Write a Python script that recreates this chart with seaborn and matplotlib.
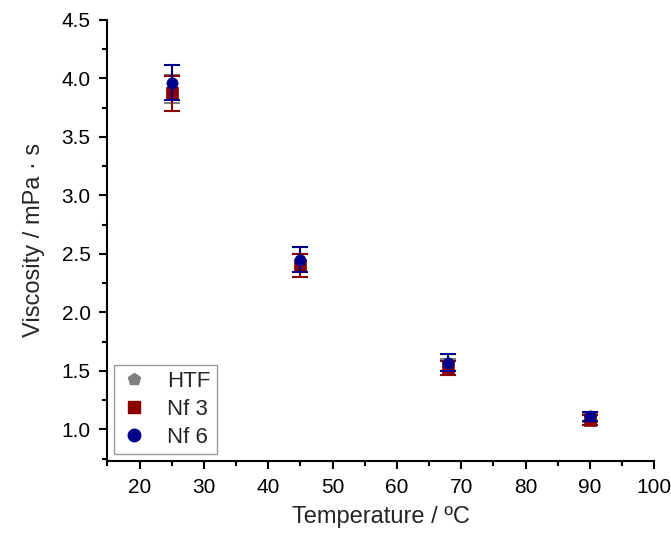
import matplotlib
matplotlib.use("Agg")
import matplotlib.pyplot as plt
import seaborn as sns
import pandas as pd
from matplotlib.ticker import MultipleLocator, FormatStrFormatter
from matplotlib.lines import Line2D

# Measured viscosity at each temperature
temperature = [25, 45, 68, 90]
htf_visc = [3.91, 2.42, 1.55, 1.10]
htf_err = [0.12, 0.08, 0.05, 0.04]
nf3_visc = [3.87, 2.40, 1.52, 1.08]
nf3_err = [0.15, 0.10, 0.06, 0.04]
nf6_visc = [3.96, 2.45, 1.57, 1.11]
nf6_err = [0.15, 0.11, 0.07, 0.04]

series_names = ["HTF", "Nf 3", "Nf 6"]
colors = {"HTF": "#808080", "Nf 3": "#8B0000", "Nf 6": "#00008B"}
markers = {"HTF": "p", "Nf 3": "s", "Nf 6": "o"}

df = pd.concat([
    pd.DataFrame({"T": temperature, "visc": htf_visc, "err": htf_err, "fluid": "HTF"}),
    pd.DataFrame({"T": temperature, "visc": nf3_visc, "err": nf3_err, "fluid": "Nf 3"}),
    pd.DataFrame({"T": temperature, "visc": nf6_visc, "err": nf6_err, "fluid": "Nf 6"}),
], ignore_index=True)

sns.set_style("ticks")
plt.rcParams["font.family"] = ["Liberation Sans", "DejaVu Sans"]

fig = plt.figure(figsize=(6.71, 5.34), dpi=100)
ax = fig.add_axes([0.16, 0.137, 0.815, 0.826])

for i, name in enumerate(series_names):
    sub = df[df["fluid"] == name]
    ax.errorbar(sub["T"], sub["visc"], yerr=sub["err"], fmt="none",
                ecolor=colors[name], elinewidth=1.5, capsize=6, capthick=1.5,
                zorder=2 + 2 * i)
    sns.scatterplot(data=sub, x="T", y="visc", color=colors[name],
                    marker=markers[name], s=65, edgecolor=colors[name],
                    linewidth=0.5, ax=ax, zorder=3 + 2 * i, legend=False)

ax.set_xlim(15, 100)
ax.set_ylim(0.73, 4.5)
ax.xaxis.set_major_locator(MultipleLocator(10))
ax.xaxis.set_minor_locator(MultipleLocator(5))
ax.yaxis.set_major_locator(MultipleLocator(0.5))
ax.yaxis.set_minor_locator(MultipleLocator(0.25))
ax.yaxis.set_major_formatter(FormatStrFormatter("%.1f"))
ax.set_xticks(range(20, 101, 10))

for side in ["top", "right"]:
    ax.spines[side].set_visible(False)
for side in ["left", "bottom"]:
    ax.spines[side].set_linewidth(1.5)
    ax.spines[side].set_color("black")

ax.tick_params(which="major", direction="out", length=6, width=1.5,
               labelsize=15, colors="black", pad=6)
ax.tick_params(which="minor", direction="out", length=3.5, width=1.5,
               colors="black")

ax.set_xlabel("Temperature / ºC", fontsize=17, labelpad=7)
ax.set_ylabel("Viscosity / mPa · s", fontsize=17, labelpad=12)

handles = [Line2D([], [], linestyle="none", marker=markers[n], color=colors[n],
                  markersize=9) for n in series_names]
leg = ax.legend(handles, series_names, loc="lower left", fontsize=16,
                frameon=True, fancybox=False, edgecolor="#808080",
                borderaxespad=0.3, handlelength=1.2, handletextpad=0.9,
                labelspacing=0.3, borderpad=0.3)
leg.get_frame().set_linewidth(1.0)

fig.savefig("out.png", dpi=100, facecolor="white")
